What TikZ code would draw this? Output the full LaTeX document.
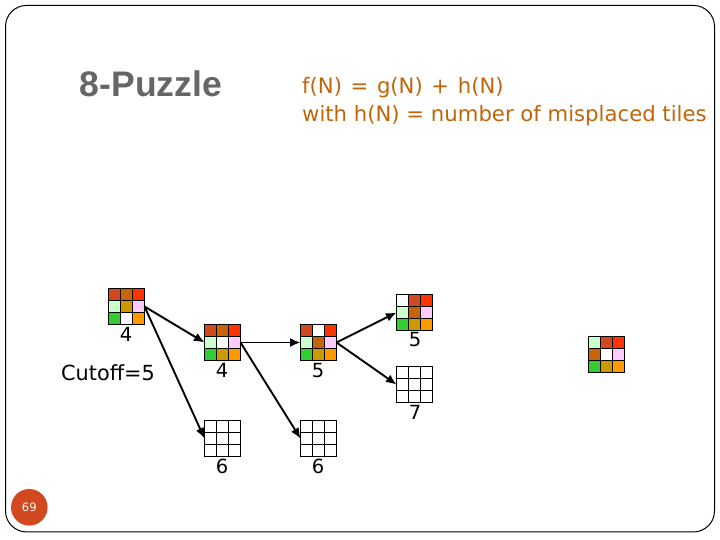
\documentclass[tikz,border=0pt]{standalone}
\usepackage{fontspec}
\setmainfont{DejaVu Sans}
\newfontfamily\titlefont{Liberation Sans}
\definecolor{rust}{HTML}{D2491F}
\definecolor{brn}{HTML}{C86408}
\definecolor{redd}{HTML}{FF3300}
\definecolor{lgr}{HTML}{CCFFCC}
\definecolor{gld}{HTML}{CC9900}
\definecolor{pnk}{HTML}{FFCCFF}
\definecolor{grn}{HTML}{33CC33}
\definecolor{org}{HTML}{FF9900}
\definecolor{txtorange}{HTML}{C0650A}
\definecolor{titlegrey}{HTML}{666666}
\newcommand{\puzzlegrid}[4]{%
  \node[gridbox] (#1) at (#2,#3) {};
  \foreach \cc [count=\ii from 0] in {#4} {
    \pgfmathtruncatemacro{\cx}{mod(\ii,3)}
    \pgfmathtruncatemacro{\cy}{int(\ii/3)}
    \draw[cellline,fill=\cc] ($(#1.north west)+(\cx*12,\cy*12)$) rectangle ++(12,12);
  }
}
\usetikzlibrary{calc,arrows.meta}
\tikzset{
  gridbox/.style={minimum width=36pt,minimum height=36pt,inner sep=0pt,outer sep=0pt},
  cellline/.style={draw=black,line width=1pt},
  link/.style={draw=black,line width=1.9pt,-{Latex[length=10.5pt,width=9pt]}},
  score/.style={font=\fontsize{19.5}{20}\selectfont,text=black,inner sep=0pt},
  formula/.style={font=\fontsize{21.2}{22}\selectfont,text=txtorange,anchor=base west,inner sep=0pt},
}
\begin{document}
\begin{tikzpicture}[x=1pt,y=-1pt]
\useasboundingbox (0,0) rectangle (720,540);
\fill[white] (0,0) rectangle (720,540);
\node[draw=black,line width=1pt,rounded corners=21pt,minimum width=709pt,minimum height=526.5pt,inner sep=0pt] (frame) at (360,268.7) {};
\node[font=\titlefont\bfseries\fontsize{35.5}{36}\selectfont,text=titlegrey,inner sep=0pt] (title) at (151,83.5) {8-Puzzle};
\node[formula] (f1) at (302,94) {\spaceskip=8.6pt f(N) = g(N) + h(N)};
\node[formula] (f2) at (302,122) {with h(N) = number of misplaced tiles};
\puzzlegrid{a}{126.5}{306.5}{rust,brn,redd,lgr,gld,pnk,grn,white,org}
\puzzlegrid{b}{222.5}{342.5}{rust,brn,redd,lgr,white,pnk,grn,gld,org}
\puzzlegrid{c}{318.5}{342.5}{rust,white,redd,lgr,brn,pnk,grn,gld,org}
\puzzlegrid{d}{414.5}{312.5}{white,rust,redd,lgr,brn,pnk,grn,gld,org}
\puzzlegrid{e}{414.5}{384.5}{white,white,white,white,white,white,white,white,white}
\puzzlegrid{g}{222.5}{438.5}{white,white,white,white,white,white,white,white,white}
\puzzlegrid{h}{318.5}{438.5}{white,white,white,white,white,white,white,white,white}
\puzzlegrid{k}{606.5}{354.5}{lgr,rust,redd,brn,white,pnk,grn,gld,org}
\draw[link] (a.east) -- (b.west);
\draw[link] (a.east) -- (g.west);
\draw[link] (b.east) -- (c.west);
\draw[link] (b.east) -- (h.west);
\draw[link] (c.east) -- (d.west);
\draw[link] (c.east) -- (e.west);
\node[score] (sa) at (126,334.5) {4};
\node[score] (sb) at (222,370.5) {4};
\node[score] (sc) at (318,370.5) {5};
\node[score] (sd) at (415,340) {5};
\node[score] (se) at (415,412) {7};
\node[score] (sg) at (222,466) {6};
\node[score] (sh) at (318,466) {6};
\node[font=\fontsize{20.8}{21}\selectfont,inner sep=0pt] (cut) at (108,373) {Cutoff=5};
\node[circle,fill=rust,minimum size=36.6pt,inner sep=0pt,text=white,font=\fontsize{11.5}{12}\selectfont] (pg) at (29.3,507.3) {69};
\end{tikzpicture}
\end{document}
